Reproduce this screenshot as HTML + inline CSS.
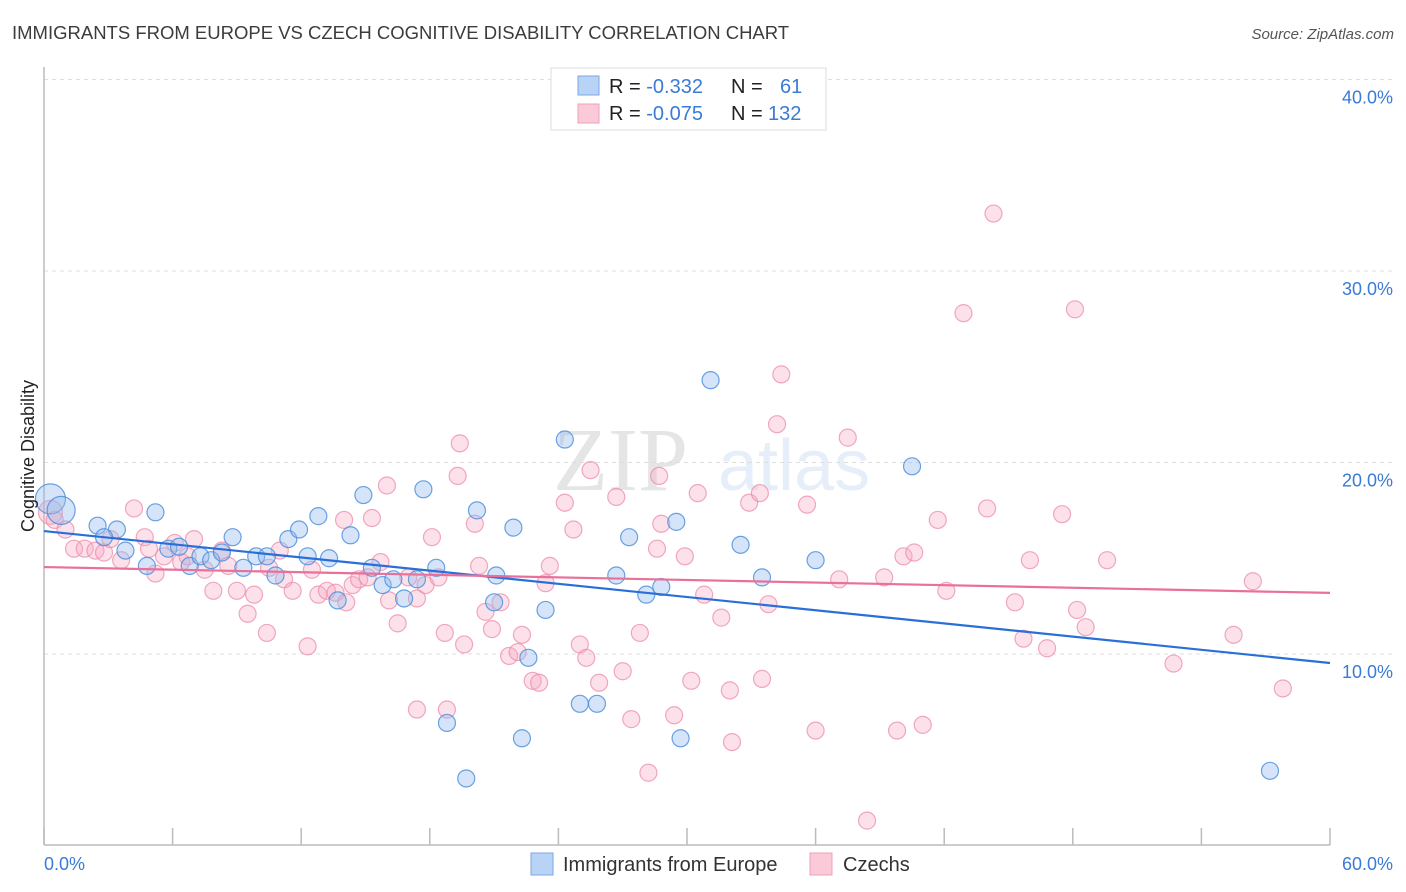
<!DOCTYPE html>
<html><head><meta charset="utf-8"><style>
body{margin:0;background:#fff;font-family:"Liberation Sans",sans-serif;}
svg{display:block}
</style></head><body>
<svg width="1406" height="892" viewBox="0 0 1406 892">
<text x="12" y="39" font-size="18.5" fill="#3c3c3c">IMMIGRANTS FROM EUROPE VS CZECH COGNITIVE DISABILITY CORRELATION CHART</text>
<text x="1394" y="39" font-size="15" fill="#555" font-style="italic" text-anchor="end">Source: ZipAtlas.com</text>
<g opacity="0.12">
<text x="553" y="490" font-size="90" font-family="Liberation Serif,serif" fill="#333">ZIP</text>
<text x="718" y="490" font-size="72" fill="#3a7bd5">atlas</text>
</g>
<g id="grid"></g>
<g id="axes"></g>
<g id="pink"></g>
<g id="blue"></g>
<g id="lines"></g>
<text transform="translate(34,456) rotate(-90)" font-size="18" fill="#222" text-anchor="middle">Cognitive Disability</text>
<text x="44" y="870" font-size="18" fill="#3a7bd5">0.0%</text>
<text x="1393" y="870" font-size="18" fill="#3a7bd5" text-anchor="end">60.0%</text>
<g>
<rect x="551" y="68" width="275" height="62" fill="#fff" stroke="#ddd"/>
<rect x="578" y="76" width="21" height="19" fill="#b8d3f5" stroke="#7aaae6"/>
<rect x="578" y="104" width="21" height="19" fill="#fbcad8" stroke="#eea0b8"/>
<text x="609" y="93" font-size="20" fill="#222">R = <tspan fill="#3a7bd5">-0.332</tspan><tspan x="731">N =</tspan><tspan x="780" fill="#3a7bd5">61</tspan></text>
<text x="609" y="120" font-size="20" fill="#222">R = <tspan fill="#3a7bd5">-0.075</tspan><tspan x="731">N =</tspan><tspan x="768" fill="#3a7bd5">132</tspan></text>
</g>
<g>
<rect x="531" y="853" width="22" height="22" fill="#b8d3f5" stroke="#7aaae6"/>
<text x="563" y="871" font-size="20" fill="#333">Immigrants from Europe</text></g>
<g>
<rect x="810" y="853" width="22" height="22" fill="#fbcad8" stroke="#eea0b8"/>
<text x="843" y="871" font-size="20" fill="#333">Czechs</text></g>
</svg>
<script>
const yTicks=[10,20,30,40];
const yTickLabels=["10.0%","20.0%","30.0%","40.0%"];
const blueX=[0.3,0.8,2.5,3.4,2.8,5.2,3.8,4.8,5.8,6.3,6.8,7.3,7.8,8.3,8.8,9.3,9.9,10.4,10.8,11.4,11.9,12.3,12.8,13.3,13.7,14.3,14.9,15.3,15.8,16.3,16.8,17.4,17.7,18.3,18.8,19.7,20.2,21.0,21.1,21.9,22.3,22.6,23.4,24.3,25.0,25.8,26.7,27.3,28.1,28.8,29.5,29.7,31.1,32.5,33.5,36.0,40.5,57.2];
const blueY=[18.1,17.5,16.7,16.5,16.1,17.4,15.4,14.6,15.5,15.6,14.6,15.1,14.9,15.3,16.1,14.5,15.1,15.1,14.1,16.0,16.5,15.1,17.2,15.0,12.8,16.2,18.3,14.5,13.6,13.9,12.9,13.9,18.6,14.5,6.4,3.5,17.5,12.7,14.1,16.6,5.6,9.8,12.3,21.2,7.4,7.4,14.1,16.1,13.1,13.5,16.9,5.6,24.3,15.7,14.0,14.9,19.8,3.9];
const blueBig=[15,14];
const pinkX=[0.3,0.5,1.0,1.4,1.9,2.4,2.8,3.1,3.6,4.2,4.7,4.9,5.2,5.6,6.1,6.4,6.7,7.0,7.5,7.9,8.3,8.6,9.0,9.5,9.8,10.4,10.5,11.0,11.2,11.6,12.3,12.5,12.8,13.2,13.6,14.0,14.1,14.4,14.7,15.1,15.3,15.7,16.0,16.1,16.5,17.0,17.4,17.8,18.1,18.4,18.7,19.3,19.4,19.6,20.1,20.3,20.6,20.9,21.3,21.7,22.1,22.3,22.8,23.1,23.4,23.6,24.3,24.7,25.0,25.3,25.5,25.9,26.7,27.0,27.4,27.8,28.2,28.6,28.7,28.8,29.4,29.9,30.2,30.5,30.8,31.6,32.0,32.1,32.9,33.4,33.5,33.8,34.2,34.4,35.6,36.0,37.1,37.5,38.4,39.2,39.8,40.1,40.6,41.0,41.7,42.1,42.9,44.0,44.3,45.3,45.7,46.0,46.8,47.5,48.1,48.2,48.6,49.6,52.7,55.5,56.4,57.8,18.8,17.4];
const pinkY=[17.4,17.0,16.5,15.5,15.5,15.4,15.3,16.0,14.9,17.6,16.1,15.5,14.2,15.1,15.8,14.8,15.1,16.0,14.4,13.3,15.4,14.6,13.3,12.1,13.1,11.1,14.5,15.4,13.9,13.3,10.4,14.4,13.1,13.3,13.2,17.0,12.7,13.6,13.9,14.0,17.1,14.8,18.8,12.8,11.6,14.0,12.9,13.6,16.1,14.0,11.1,19.3,21.0,10.5,16.8,14.6,12.2,11.3,12.7,9.9,10.1,11.0,8.6,8.5,13.7,14.6,17.9,16.5,10.5,9.8,19.6,8.5,18.2,9.1,6.6,11.1,3.8,15.5,19.3,16.8,6.8,15.1,8.6,18.4,13.1,11.9,8.1,5.4,17.9,18.4,8.7,12.6,22.0,24.6,17.8,6.0,13.9,21.3,1.3,14.0,6.0,15.1,15.3,6.3,17.0,13.3,27.8,17.6,33.0,12.7,10.8,14.9,10.3,17.3,28.0,12.3,11.4,14.9,9.5,11.0,13.8,8.2,7.1,7.1];
const blueTrend=[16.42,9.53];
const pinkTrend=[14.54,13.19];
const X0=44,X1=1330,Y0=845.5,PXPER=19.15;
const sx=v=>X0+v/60*(X1-X0);
const sy=v=>Y0-v*PXPER;
const NS="http://www.w3.org/2000/svg";
function mk(tag,attrs,parent){const e=document.createElementNS(NS,tag);for(const k in attrs)e.setAttribute(k,attrs[k]);parent.appendChild(e);return e;}
const grid=document.getElementById('grid');
yTicks.forEach((t,i)=>{
  const l=mk('line',{x1:44,x2:1393,y1:sy(t),y2:sy(t),stroke:'#ddd','stroke-dasharray':'4,4'},grid);
  
  
  const tx=mk('text',{x:1393,y:sy(t)+24,'font-size':18,fill:'#3a7bd5','text-anchor':'end'},grid);
  tx.textContent=yTickLabels[i];
  
  
});
const axes=document.getElementById('axes');
const ya=mk('line',{x1:44,x2:44,y1:67,y2:845,stroke:'#bbb','stroke-width':1.5},axes);


const xa=mk('line',{x1:44,x2:1330,y1:845,y2:845,stroke:'#bbb','stroke-width':1.5},axes);


for(let i=0;i<=10;i++){
  const t=mk('line',{x1:sx(i*6),x2:sx(i*6),y1:828,y2:845,stroke:'#bbb','stroke-width':1.5},axes);
  
  
}
const pg=document.getElementById('pink');
pinkX.forEach((x,i)=>{
  const c=mk('circle',{cx:sx(x),cy:sy(pinkY[i]),r:i===0?12:8.5,fill:'rgba(246,170,194,0.35)',stroke:'rgba(236,140,170,0.75)','stroke-width':1.2},pg);
  
  
});
const bg=document.getElementById('blue');
blueX.forEach((x,i)=>{
  const c=mk('circle',{cx:sx(x),cy:sy(blueY[i]),r:blueBig[i]||8.5,fill:'rgba(150,188,238,0.4)',stroke:'rgba(70,140,220,0.8)','stroke-width':1.2},bg);
  
  
});
const lg=document.getElementById('lines');
const lb=mk('line',{x1:sx(0),y1:sy(blueTrend[0]),x2:sx(60),y2:sy(blueTrend[1]),stroke:'#2a6fd8','stroke-width':2.2},lg);


const lp=mk('line',{x1:sx(0),y1:sy(pinkTrend[0]),x2:sx(60),y2:sy(pinkTrend[1]),stroke:'#e8709a','stroke-width':2.2},lg);


</script>
</body></html>
